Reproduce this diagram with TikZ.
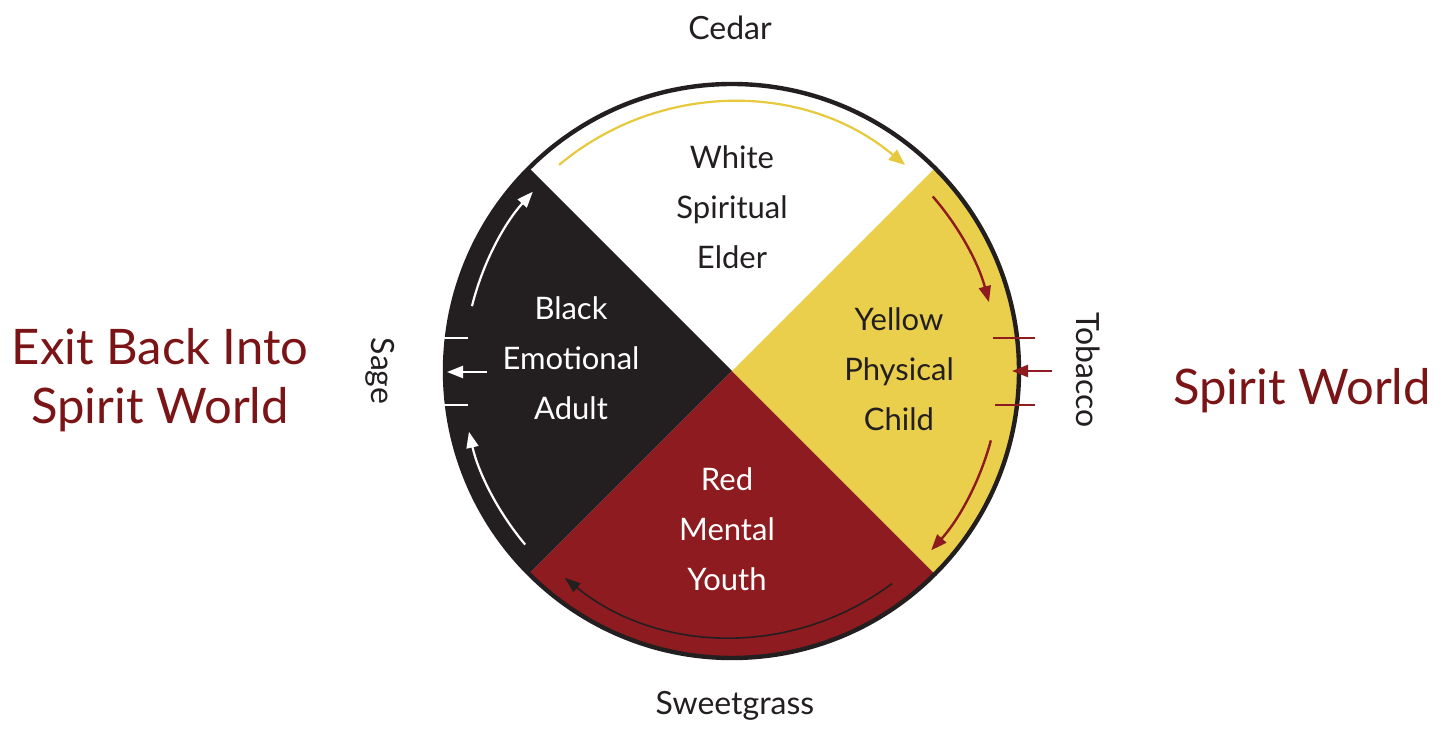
\documentclass[tikz,border=0pt]{standalone}
\usepackage{fontspec}
\setmainfont{Lato}
\usetikzlibrary{arrows.meta,calc}
\definecolor{wyellow}{HTML}{E9CF4C}
\definecolor{wred}{HTML}{8E1B1F}
\definecolor{wblack}{HTML}{231F20}
\definecolor{yarrowc}{HTML}{E6C93C}
\definecolor{titlered}{HTML}{7B1416}
\tikzset{
  sectorlabel/.style={align=center, font=\fontsize{15.5}{25}\selectfont},
  bigtitle/.style={align=center, text=titlered, font=\fontsize{24.5}{29.5}\selectfont},
  herb/.style={text=wblack, font=\fontsize{16}{18}\selectfont},
  yarrow/.style={draw=yarrowc, line width=1.1pt, -{Triangle[length=8pt,width=6.5pt]}},
  rarrow/.style={draw=wred, line width=1.2pt, -{Triangle[length=8pt,width=6pt]}},
  barrow/.style={draw=wblack, line width=0.8pt, -{Triangle[length=8pt,width=5.5pt]}},
  warrow/.style={draw=white, line width=1.1pt, -{Triangle[length=8pt,width=6pt]}},
  rtick/.style={draw=wred, line width=1.4pt},
  wtick/.style={draw=white, line width=1.4pt},
}
\begin{document}
\begin{tikzpicture}[x=0.5pt,y=0.5pt]
\useasboundingbox (0,0) rectangle (1445,728);
\fill[white] (0,0) rectangle (1445,728);
\coordinate (c) at (732,357);
% sectors
\fill[white]   (c) -- ++(45:286)  arc[start angle=45, end angle=135, radius=286] -- cycle;
\fill[wblack]  (c) -- ++(135:286) arc[start angle=135,end angle=225, radius=286] -- cycle;
\fill[wred]    (c) -- ++(225:286) arc[start angle=225,end angle=315, radius=286] -- cycle;
\fill[wyellow] (c) -- ++(-45:286) arc[start angle=-45,end angle=45,  radius=286] -- cycle;
\draw[line width=2.2pt, wblack] (c) circle[radius=287];
% arc arrows
\coordinate (ya) at ($(c)+(130:269)$);
\draw[yarrow] (ya) arc[start angle=130, end angle=50, radius=269];
\coordinate (r1) at ($(c)+(41:266)$);
\draw[rarrow] (r1) arc[start angle=41, end angle=15, radius=266];
\coordinate (r2) at ($(c)+(-15:268)$);
\draw[rarrow] (r2) arc[start angle=-15, end angle=-42, radius=268];
\coordinate (b1) at ($(c)+(-53:266)$);
\draw[barrow] (b1) arc[start angle=-53, end angle=-129, radius=266];
\coordinate (w1) at ($(c)+(220:270)$);
\draw[warrow] (w1) arc[start angle=220, end angle=193, radius=270];
\coordinate (w2) at ($(c)+(166:268)$);
\draw[warrow] (w2) arc[start angle=166, end angle=138, radius=268];
% right ticks and entry arrow
\coordinate (rt1a) at (993,390); \coordinate (rt1b) at (1035,390);
\coordinate (rt2a) at (995,323); \coordinate (rt2b) at (1035,323);
\draw[rtick] (rt1a) -- (rt1b);
\draw[rtick] (rt2a) -- (rt2b);
\coordinate (ein) at (1052,357); \coordinate (eout) at (1012,357);
\draw[rarrow] (ein) -- (eout);
% left ticks and exit arrow
\coordinate (lt1a) at (443,390); \coordinate (lt1b) at (468,390);
\coordinate (lt2a) at (443,323); \coordinate (lt2b) at (468,323);
\draw[wtick] (lt1a) -- (lt1b);
\draw[wtick] (lt2a) -- (lt2b);
\coordinate (xin) at (487,356); \coordinate (xout) at (447,356);
\draw[warrow] (xin) -- (xout);
% sector labels
\node[sectorlabel, text=wblack] (lwhite) at (732,521) {White\\Spiritual\\Elder};
\node[sectorlabel, text=white] (lblack) at (571,370) {Black\\Emotional\\Adult};
\node[sectorlabel, text=wblack] (lyellow) at (899,359) {Yellow\\Physical\\Child};
\node[sectorlabel, text=white] (lred) at (727,199) {Red\\Mental\\Youth};
% herbs
\node[herb, anchor=base] (cedar) at (730,688) {Cedar};
\node[herb, anchor=base] (sweet) at (735,13) {Sweetgrass};
\node[herb, rotate=-90] (tobacco) at (1088,358) {Tobacco};
\node[herb, rotate=-90] (sage) at (380,357) {Sage};
% titles
\node[bigtitle] (exit) at (160,348) {Exit Back Into\\Spirit World};
\node[bigtitle] (spirit) at (1302,337) {Spirit World};
\end{tikzpicture}
\end{document}
